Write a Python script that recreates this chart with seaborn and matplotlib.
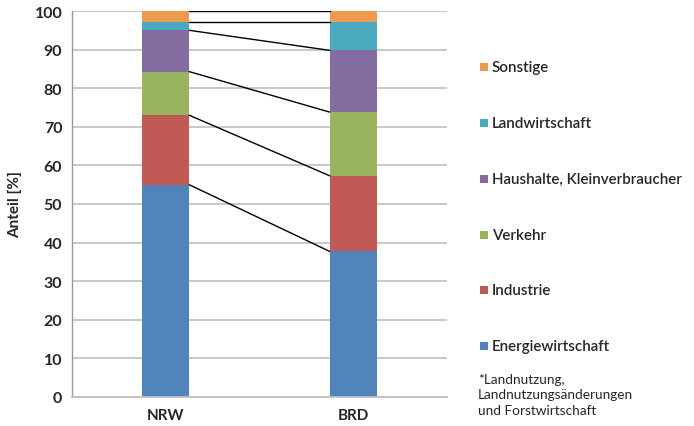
import numpy as np
import pandas as pd
import matplotlib
matplotlib.use("Agg")
import matplotlib.pyplot as plt
import seaborn as sns
from matplotlib.patches import Rectangle

regions = ["NRW", "BRD"]
sectors = ["Energiewirtschaft", "Industrie", "Verkehr",
           "Haushalte, Kleinverbraucher", "Landwirtschaft", "Sonstige"]
nrw_values = [55.0, 18.0, 11.3, 10.7, 2.1, 2.9]
brd_values = [37.7, 19.6, 16.5, 16.0, 7.3, 2.9]
colors = ["#5284BC", "#BF5A55", "#9AB35E", "#846CA0", "#4BA9C0", "#EC9A4E"]
yticks = list(range(0, 101, 10))
footnote = "*Landnutzung,\nLandnutzungsänderungen\nund Forstwirtschaft"

rows = []
for i, region in enumerate(regions):
    vals = nrw_values if region == "NRW" else brd_values
    for s, v in zip(sectors, vals):
        rows.append({"pos": i, "sector": s, "value": v})
df = pd.DataFrame(rows)

sns.set_theme(style="white")
plt.rcParams['font.family'] = ['Lato', 'DejaVu Sans']

W, H = 694, 427
fig = plt.figure(figsize=(W / 100, H / 100), dpi=100)
ax = fig.add_axes([72 / W, 1 - 398 / H, 375 / W, 386 / H])

# top layer first in hue order -> seaborn stacks first level on top
hue_order = sectors[::-1]
palette = dict(zip(sectors, colors))
sns.histplot(data=df, x="pos", weights="value", hue="sector", hue_order=hue_order,
             multiple="stack", discrete=True, shrink=0.25, palette=palette,
             alpha=1, linewidth=0, legend=False, ax=ax)

# connector lines between segment boundaries
cum_nrw = np.cumsum(nrw_values)
cum_brd = np.cumsum(brd_values)
for a, b in zip(cum_nrw, cum_brd):
    ax.plot([0.125, 0.875], [a, b], color="black", lw=1, zorder=3)

ax.set_xlim(-0.5, 1.5)
ax.set_ylim(0, 100)
ax.set_yticks(yticks)
ax.set_xticks([0, 1])
ax.set_xticklabels(regions)
ax.yaxis.grid(True, color="#BFBFBF", lw=1.2)
ax.set_axisbelow(True)
ax.tick_params(axis="y", length=4, color="#999999", width=1, pad=3, labelsize=11.5)
ax.tick_params(axis="x", length=0, pad=8, labelsize=11)
for lab in ax.get_xticklabels() + ax.get_yticklabels():
    lab.set_fontweight("bold")
sns.despine(ax=ax, top=True, right=True)
ax.spines["left"].set_color("#999999")
ax.spines["bottom"].set_color("#BFBFBF")
ax.spines["left"].set_linewidth(1)
ax.set_xlabel("")
ax.set_ylabel("Anteil [%]", fontweight="bold", fontsize=11, labelpad=9)

# legend, drawn entry by entry so the spacing matches
legend_y = [68, 124, 180, 236, 291, 347]
for s, yc in zip(hue_order, legend_y):
    fig.patches.append(Rectangle((480 / W, 1 - (yc + 4) / H), 8 / W, 8 / H,
                                 transform=fig.transFigure, facecolor=palette[s],
                                 edgecolor="none"))
    fig.text(492 / W, 1 - yc / H, s, fontsize=10.9, fontweight="semibold",
             va="center", ha="left")

fig.text(478 / W, 1 - 374 / H, footnote, fontsize=9.8, va="top", ha="left",
         linespacing=1.35)

fig.savefig("out.png", dpi=100)
